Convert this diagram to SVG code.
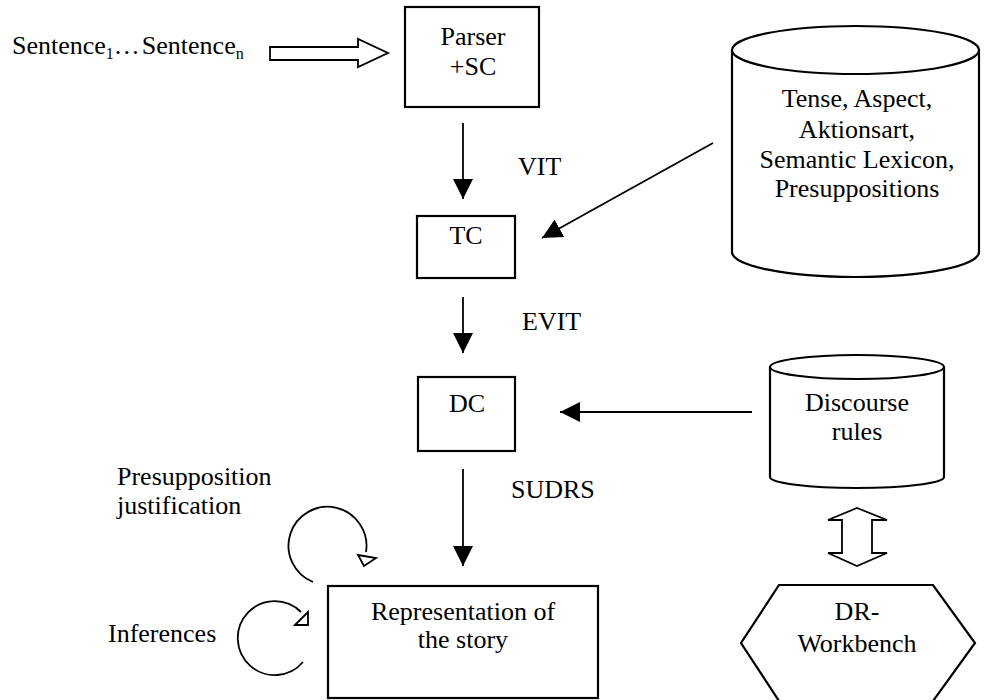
<svg xmlns="http://www.w3.org/2000/svg" width="984" height="700" viewBox="0 0 984 700">
<style>
text{font-family:"Liberation Serif","Times New Roman",serif;font-size:26px;fill:#000}
.c{text-anchor:middle}
.box{fill:#fff;stroke:#000;stroke-width:2.2}
.ln{fill:none;stroke:#000;stroke-width:1.8}
.open{fill:#fff;stroke:#000;stroke-width:1.8}
</style>
<defs>
<marker id="ah" markerWidth="20" markerHeight="20" viewBox="0 0 20 20" refX="20" refY="10" orient="auto" markerUnits="userSpaceOnUse">
<path d="M0,0 L20,10 L0,20 Z" fill="#000"/>
</marker>
</defs>
<rect width="984" height="700" fill="#fff"/>

<text x="12" y="54" font-size="27">Sentence<tspan font-size="16" dy="5">1</tspan><tspan dy="-5" letter-spacing="2">…</tspan><tspan>Sentence</tspan><tspan font-size="16" dy="5">n</tspan></text>

<g id="parser"><rect class="box" x="405" y="7" width="134" height="100"/><text class="c" x="473" y="45">Parser</text><text class="c" x="473" y="75">+SC</text></g>
<g id="tc"><rect class="box" x="417" y="216" width="98" height="62"/><text class="c" x="466" y="244">TC</text></g>
<g id="dc"><rect class="box" x="418" y="377" width="97" height="74"/><text class="c" x="467" y="412">DC</text></g>
<g id="rep"><rect class="box" x="328" y="586" width="270" height="112"/><text class="c" x="463" y="620">Representation of</text><text class="c" x="463" y="648">the story</text></g>

<g id="lexicon">
<path class="box" d="M732,50 L732,252 A123.5,25 0 0 0 979,252 L979,50"/>
<ellipse class="box" cx="855.5" cy="50" rx="123.5" ry="24"/>
<text class="c" x="857" y="107">Tense, Aspect,</text>
<text class="c" x="857" y="138">Aktionsart,</text>
<text class="c" x="857" y="168">Semantic Lexicon,</text>
<text class="c" x="857" y="197">Presuppositions</text>
</g>

<g id="discourse">
<path class="box" d="M770,367 L770,477 A87,11 0 0 0 944,477 L944,367"/>
<ellipse class="box" cx="857" cy="367" rx="87" ry="12"/>
<text class="c" x="857" y="411">Discourse</text>
<text class="c" x="857" y="440">rules</text>
</g>

<g id="drwb">
<polygon class="box" points="779,585 933,585 975,643 933,701 779,701 741,643"/>
<text class="c" x="857" y="620">DR-</text>
<text class="c" x="857" y="652">Workbench</text>
</g>

<g id="labels">
<text x="518" y="175">VIT</text>
<text x="522" y="330">EVIT</text>
<text x="511" y="498">SUDRS</text>
<text x="117" y="485">Presupposition</text>
<text x="117" y="514">justification</text>
<text x="108" y="642">Inferences</text>
</g>

<g id="connectors">
<polygon class="open" points="270,47 358,47 358,39 388,53 358,67 358,60 270,60"/>
<line class="ln" x1="463" y1="123" x2="463" y2="199" marker-end="url(#ah)"/>
<line class="ln" x1="713" y1="143" x2="542" y2="238" marker-end="url(#ah)"/>
<line class="ln" x1="463" y1="297" x2="463" y2="353" marker-end="url(#ah)"/>
<line class="ln" x1="752" y1="412" x2="560" y2="412" marker-end="url(#ah)"/>
<line class="ln" x1="463" y1="469" x2="463" y2="566" marker-end="url(#ah)"/>
<polygon class="open" points="857,508 887,520 872,520 872,553 887,553 857,566 828,553 842,553 842,520 828,520"/>
<path class="ln" d="M313,582 A39,39 0 1 1 366,552"/>
<polygon class="open" points="358,555 376,558 364,566"/>
<path class="ln" d="M303,662 A37,37 0 1 1 301,612"/>
<polygon class="open" points="295,625 308,612 308,625"/>
</g>
</svg>
